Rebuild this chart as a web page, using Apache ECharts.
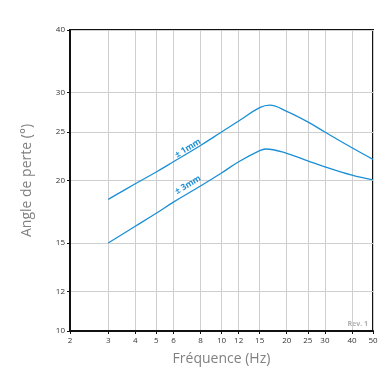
<!DOCTYPE html>
<html><head><meta charset="utf-8">
<script src="https://cdn.jsdelivr.net/npm/echarts@6/dist/echarts.min.js"></script>
<style>html,body{margin:0;padding:0;background:#fff}#c{width:386px;height:379px}</style>
</head><body><div id="c"></div>
<script>
const freq1 = [3, 4, 5, 6, 8, 10, 12, 15, 16.7, 20, 25, 30, 40, 50];
const angle1mm = [18.34, 19.7, 20.8, 21.8, 23.5, 25.0, 26.3, 27.97, 28.3, 27.5, 26.2, 25.0, 23.26, 22.05];
const freq3 = [3, 4, 5, 6, 8, 10, 12, 15, 16, 20, 25, 30, 40, 50];
const angle3mm = [15.0, 16.2, 17.2, 18.1, 19.5, 20.7, 21.8, 22.95, 23.12, 22.67, 21.9, 21.3, 20.5, 20.05];
const xTicks = [2, 3, 4, 5, 6, 8, 10, 12, 15, 20, 25, 30, 40, 50];
const yTicks = [10, 12, 15, 20, 25, 30, 40];
const seriesNames = ['± 1mm', '± 3mm'];
const labelAt = [[7, 23.2], [7, 19.6]];

const blue = '#1a8fd6';
const font = 'Open Sans';
const chart = echarts.init(document.getElementById('c'));
function mk(xs, vals) { return xs.map((f, i) => [f, vals[i]]); }
function series(name, xs, vals, lab) {
  return {
    type: 'line', name: name, data: mk(xs, vals), smooth: 0.4, showSymbol: false,
    lineStyle: { color: blue, width: 1.3 }, itemStyle: { color: blue },
    markPoint: {
      symbol: 'circle', symbolSize: 0, silent: true,
      data: [{ coord: lab, label: { show: true, formatter: name, rotate: 31, position: 'inside',
        fontSize: 8.5, fontWeight: 'bold', color: blue, fontFamily: font } }]
    }
  };
}
chart.setOption({
  animation: false,
  grid: { left: 70, right: 13, top: 30, bottom: 48, show: true, borderColor: '#111', borderWidth: 2 },
  xAxis: {
    type: 'log', logBase: 10, min: 2, max: 50,
    name: 'Fréquence (Hz)', nameLocation: 'middle', nameGap: 21,
    nameTextStyle: { fontSize: 14, color: '#808080', fontFamily: font },
    axisLine: { show: true, lineStyle: { color: '#111', width: 2 } },
    axisTick: { show: true, length: 3, lineStyle: { color: '#111' }, customValues: xTicks },
    axisLabel: { fontSize: 8, color: '#333', fontFamily: font, margin: 6, customValues: xTicks, formatter: v => String(v) },
    splitLine: { show: true, lineStyle: { color: '#cfcfcf', width: 1 } },
    minorTick: { show: false }, minorSplitLine: { show: false }
  },
  yAxis: {
    type: 'log', logBase: 10, min: 10, max: 40,
    name: 'Angle de perte (°)', nameLocation: 'middle', nameGap: 36,
    nameTextStyle: { fontSize: 14, color: '#808080', fontFamily: font },
    axisLine: { show: true, lineStyle: { color: '#111', width: 2 } },
    axisTick: { show: true, length: 3, lineStyle: { color: '#111' }, customValues: yTicks },
    axisLabel: { fontSize: 8, color: '#333', fontFamily: font, margin: 5, customValues: yTicks, formatter: v => String(v) },
    splitLine: { show: true, lineStyle: { color: '#cfcfcf', width: 1 } }
  },
  graphic: [{ type: 'text', right: 18, bottom: 52, style: { text: 'Rev. 1', fontSize: 7, fontWeight: 'bold', fill: '#b0b0b0', fontFamily: font } }],
  series: [series(seriesNames[0], freq1, angle1mm, labelAt[0]), series(seriesNames[1], freq3, angle3mm, labelAt[1])]
});
</script></body></html>
